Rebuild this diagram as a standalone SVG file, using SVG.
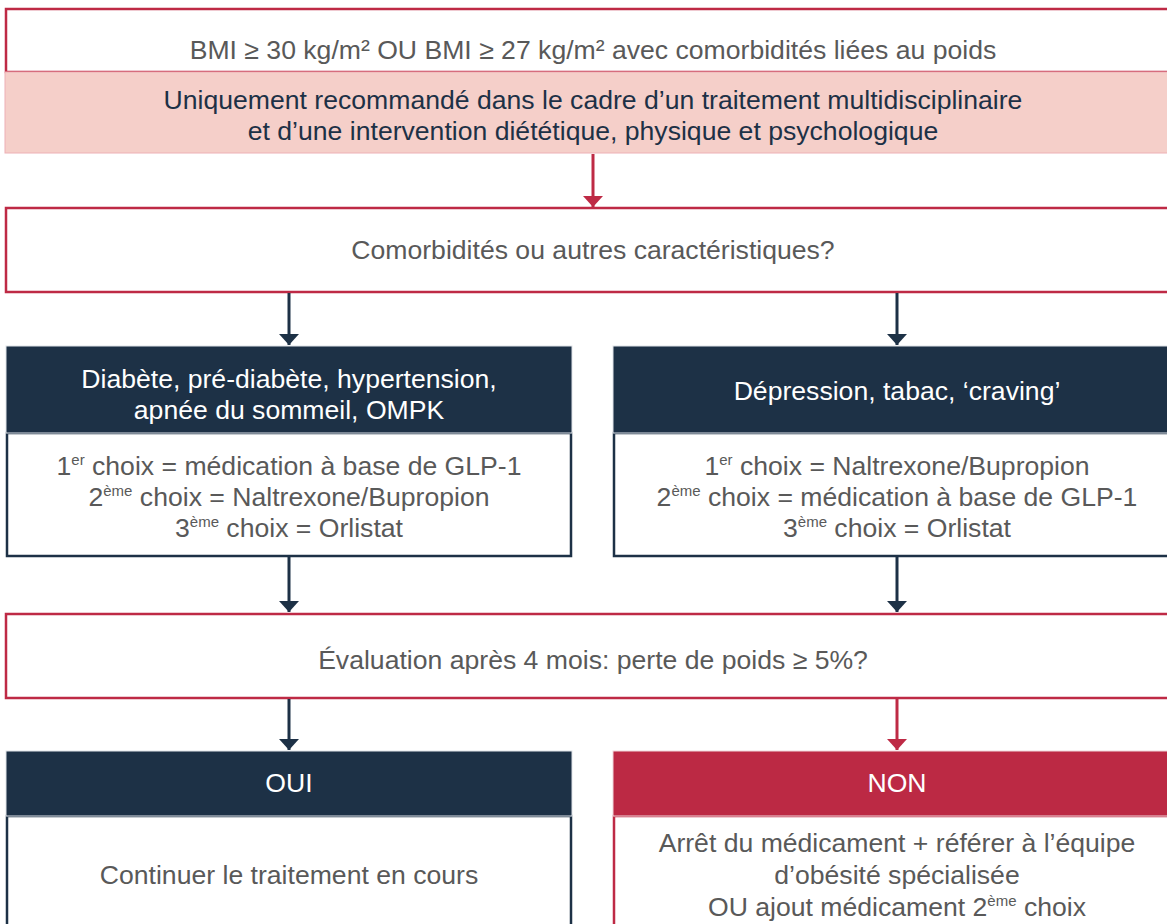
<svg xmlns="http://www.w3.org/2000/svg" width="1167" height="924" viewBox="0 0 1167 924">
<defs>
<style>
text{font-family:"Liberation Sans",Arial,sans-serif;font-size:26.6px;text-anchor:middle}
.g{fill:#595959}
.n{fill:#1D3146}
.w{fill:#ffffff}
.sup{font-size:15px}
.rbox{fill:#ffffff;stroke:#BE2A45;stroke-width:2.5}
.nbody{fill:#ffffff;stroke:#1D3146;stroke-width:2.5}
.nhead{fill:#1D3146;stroke:#dfe3e8;stroke-width:1}
.rhead{fill:#BC2944;stroke:#f0d6da;stroke-width:1}
.ra{stroke:#BE2A45;stroke-width:3;fill:none}
.na{stroke:#1D3146;stroke-width:3;fill:none}
</style>
<marker id="ahn" markerUnits="userSpaceOnUse" markerWidth="20" markerHeight="12" refX="10" refY="11" viewBox="0 0 20 12">
<path d="M0,0 L20,0 L10,11 Z" fill="#1D3146"/>
</marker>
<marker id="ahr" markerUnits="userSpaceOnUse" markerWidth="20" markerHeight="12" refX="10" refY="11" viewBox="0 0 20 12">
<path d="M0,0 L20,0 L10,11 Z" fill="#BE2A45"/>
</marker>
</defs>
<rect width="1167" height="924" fill="#ffffff"/>

<g id="node-bmi">
<rect class="rbox" x="6" y="9" width="1176" height="63"/>
<rect x="5" y="72" width="1178" height="81" fill="#F5CFC9" stroke="#EDB0B5" stroke-width="1"/>
<text class="g" x="593" y="59">BMI ≥ 30 kg/m² OU BMI ≥ 27 kg/m² avec comorbidités liées au poids</text>
<text class="n" x="593" y="109">Uniquement recommandé dans le cadre d’un traitement multidisciplinaire</text>
<text class="n" x="593" y="140">et d’une intervention diététique, physique et psychologique</text>
</g>

<g id="node-comorb">
<rect class="rbox" x="6" y="208" width="1176" height="84"/>
<text class="g" x="593" y="259">Comorbidités ou autres caractéristiques?</text>
</g>

<g id="node-diabete">
<rect class="nbody" x="7" y="433" width="564" height="123"/>
<rect class="nhead" x="6" y="346" width="566" height="87"/>
<text class="w" x="289" y="388">Diabète, pré-diabète, hypertension,</text>
<text class="w" x="289" y="419">apnée du sommeil, OMPK</text>
<text class="g" x="289" y="475">1<tspan class="sup" dy="-10">er</tspan><tspan dy="10"> choix = médication à base de GLP-1</tspan></text>
<text class="g" x="289" y="506">2<tspan class="sup" dy="-10">ème</tspan><tspan dy="10"> choix = Naltrexone/Bupropion</tspan></text>
<text class="g" x="289" y="537">3<tspan class="sup" dy="-10">ème</tspan><tspan dy="10"> choix = Orlistat</tspan></text>
</g>

<g id="node-depression">
<rect class="nbody" x="614" y="433" width="566" height="123"/>
<rect class="nhead" x="613" y="346" width="568" height="87"/>
<text class="w" x="897" y="400">Dépression, tabac, ‘craving’</text>
<text class="g" x="897" y="475">1<tspan class="sup" dy="-10">er</tspan><tspan dy="10"> choix = Naltrexone/Bupropion</tspan></text>
<text class="g" x="897" y="506">2<tspan class="sup" dy="-10">ème</tspan><tspan dy="10"> choix = médication à base de GLP-1</tspan></text>
<text class="g" x="897" y="537">3<tspan class="sup" dy="-10">ème</tspan><tspan dy="10"> choix = Orlistat</tspan></text>
</g>

<g id="node-evaluation">
<rect class="rbox" x="6" y="614" width="1176" height="84"/>
<text class="g" x="593" y="669">Évaluation après 4 mois: perte de poids ≥ 5%?</text>
</g>

<g id="node-oui">
<rect class="nbody" x="7" y="816" width="564" height="130"/>
<rect class="nhead" x="6" y="751" width="566" height="65"/>
<text class="w" x="289" y="792">OUI</text>
<text class="g" x="289" y="884">Continuer le traitement en cours</text>
</g>

<g id="node-non">
<rect class="rbox" x="614" y="816" width="566" height="130"/>
<rect class="rhead" x="613" y="751" width="568" height="65"/>
<text class="w" x="897" y="792">NON</text>
<text class="g" x="897" y="852">Arrêt du médicament + référer à l’équipe</text>
<text class="g" x="897" y="884">d’obésité spécialisée</text>
<text class="g" x="897" y="916">OU ajout médicament 2<tspan class="sup" dy="-10">ème</tspan><tspan dy="10"> choix</tspan></text>
</g>

<g id="connectors">
<line class="ra" x1="593" y1="154" x2="593" y2="207" marker-end="url(#ahr)"/>
<line class="na" x1="289" y1="293" x2="289" y2="345" marker-end="url(#ahn)"/>
<line class="na" x1="897" y1="293" x2="897" y2="345" marker-end="url(#ahn)"/>
<line class="na" x1="289" y1="557" x2="289" y2="612" marker-end="url(#ahn)"/>
<line class="na" x1="897" y1="557" x2="897" y2="612" marker-end="url(#ahn)"/>
<line class="na" x1="289" y1="699" x2="289" y2="750" marker-end="url(#ahn)"/>
<line class="ra" x1="897" y1="699" x2="897" y2="750" marker-end="url(#ahr)"/>
</g>
</svg>
